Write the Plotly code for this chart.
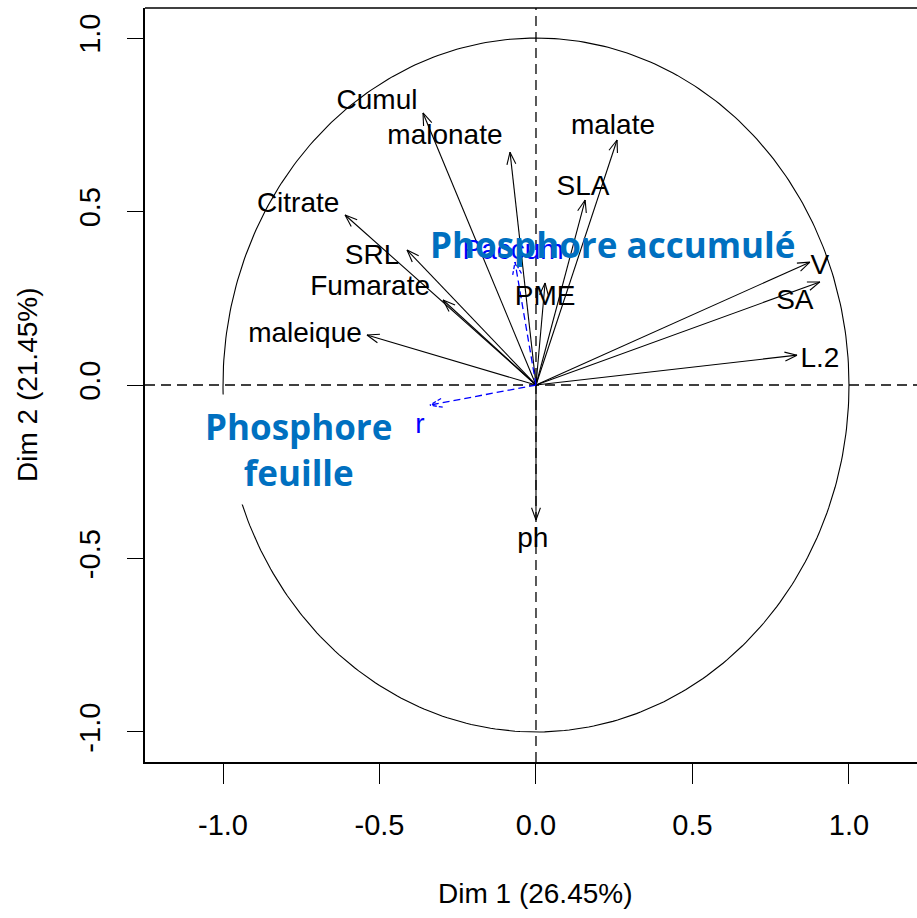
import numpy as np
import plotly.graph_objects as go

# ---------------- data ----------------
var_names = ["Cumul", "malonate", "Citrate", "SRL", "Fumarate", "maleique",
             "malate", "SLA", "PME", "V", "SA", "L.2", "ph"]
dim1 = [-0.361, -0.083, -0.610, -0.412, -0.297, -0.540,
        0.259, 0.157, 0.029, 0.875, 0.907, 0.834, 0.000]
dim2 = [0.784, 0.671, 0.490, 0.389, 0.245, 0.144,
        0.706, 0.533, 0.294, 0.354, 0.297, 0.086, -0.389]
# label anchor points (as placed by the original plot)
lab_x = [-0.508, -0.291, -0.760, -0.524, -0.530, -0.738,
         0.246, 0.150, 0.029, 0.907, 0.827, 0.907, -0.010]
lab_y = [0.816, 0.715, 0.519, 0.369, 0.280, 0.144,
         0.744, 0.568, 0.251, 0.340, 0.239, 0.072, -0.447]

sup_names = ["Paccum", "r"]
sup_dim1 = [-0.067, -0.339]
sup_dim2 = [0.354, -0.058]
sup_lab_x = [-0.073, -0.371]
sup_lab_y = [0.383, -0.118]

x_ticks = [-1.0, -0.5, 0.0, 0.5, 1.0]
y_ticks = [-1.0, -0.5, 0.0, 0.5, 1.0]
x_title = "Dim 1 (26.45%)"
y_title = "Dim 2 (21.45%)"

# ---------------- geometry ----------------
W, H = 917, 918
ML, MR, MT, MB = 145, 0, 8, 156
XR = [-1.2492, 1.2173]
YR = [-1.0865, 1.0865]
pw = W - ML - MR
ph_ = H - MT - MB
sx = pw / (XR[1] - XR[0])
sy = ph_ / (YR[1] - YR[0])

FONT = "Liberation Sans, Arial, sans-serif"
FS = 28


def arrows(xs, ys, head_len=13, ang=20):
    lx, ly, hx, hy = [], [], [], []
    a = np.radians(ang)
    for x, y in zip(xs, ys):
        lx += [0, x, None]
        ly += [0, y, None]
        dx, dy = x * sx, y * sy
        n = np.hypot(dx, dy)
        ux, uy = dx / n, dy / n
        for s in (a, -a):
            rx = ux * np.cos(s) - uy * np.sin(s)
            ry = ux * np.sin(s) + uy * np.cos(s)
            hx += [x - head_len * rx / sx, x, None]
            hy += [y - head_len * ry / sy, y, None]
    return lx, ly, hx, hy


def px2paper(px, py):
    return (px - ML) / pw, 1 - (py - MT) / ph_


fig = go.Figure()

# unit circle
t = np.linspace(0, 2 * np.pi, 400)
fig.add_trace(go.Scatter(x=np.cos(t), y=np.sin(t), mode="lines",
                         line=dict(color="black", width=1.1), hoverinfo="skip"))

# dashed axes
fig.add_trace(go.Scatter(x=[XR[0], XR[1]], y=[0, 0], mode="lines",
                         line=dict(color="black", width=1.3, dash="10px,6px"), hoverinfo="skip"))
fig.add_trace(go.Scatter(x=[0, 0], y=[YR[0], YR[1]], mode="lines",
                         line=dict(color="black", width=1.3, dash="10px,6px"), hoverinfo="skip"))

# active variable arrows
lx, ly, hx, hy = arrows(dim1, dim2)
fig.add_trace(go.Scatter(x=lx, y=ly, mode="lines", line=dict(color="black", width=1.1),
                         hoverinfo="skip"))
fig.add_trace(go.Scatter(x=hx, y=hy, mode="lines", line=dict(color="black", width=1.1),
                         hoverinfo="skip"))

# supplementary (blue dashed)
lx, ly, hx, hy = arrows(sup_dim1, sup_dim2)
fig.add_trace(go.Scatter(x=lx, y=ly, mode="lines",
                         line=dict(color="#0000FF", width=1.3, dash="7px,4px"), hoverinfo="skip"))
fig.add_trace(go.Scatter(x=hx, y=hy, mode="lines",
                         line=dict(color="#0000FF", width=1.3, dash="4px,2px"), hoverinfo="skip"))

# labels
fig.add_trace(go.Scatter(x=lab_x, y=lab_y, mode="text", text=var_names,
                         textfont=dict(family=FONT, size=FS, color="black"),
                         textposition="middle center", hoverinfo="skip"))
fig.add_trace(go.Scatter(x=sup_lab_x, y=sup_lab_y, mode="text", text=sup_names,
                         textfont=dict(family=FONT, size=FS, color="#0000FF"),
                         textposition="middle center", hoverinfo="skip"))

BLUE = "#0070C0"
BOLD = "Open Sans, Lato, sans-serif"
ax1, ay1 = px2paper(612, 245)
ax2, ay2 = px2paper(298, 449)
ax3, ay3 = px2paper(535, 893)
ax4, ay4 = px2paper(27, 385)
annotations = [
    dict(x=ax1, y=ay1, xref="paper", yref="paper", xanchor="center", yanchor="middle",
         text="<b>Phosphore accumulé</b>", showarrow=False,
         font=dict(family=BOLD, size=35, color=BLUE)),
    dict(x=ax2, y=ay2, xref="paper", yref="paper", xanchor="center", yanchor="middle",
         text="<b>Phosphore<br>feuille</b>", showarrow=False, align="center",
         font=dict(family=BOLD, size=35, color=BLUE), bgcolor="white",
         borderpad=8),
    dict(x=ax3, y=ay3, xref="paper", yref="paper", xanchor="center", yanchor="middle",
         text=x_title, showarrow=False, font=dict(family=FONT, size=FS, color="black")),
    dict(x=ax4, y=ay4, xref="paper", yref="paper", xanchor="center", yanchor="middle",
         text=y_title, showarrow=False, textangle=-90,
         font=dict(family=FONT, size=FS, color="black")),
]

shapes = [dict(type="line", xref="paper", yref="paper", x0=0, x1=1, y0=1, y1=1,
               line=dict(color="black", width=1.5))]

fig.update_layout(
    width=W, height=H,
    margin=dict(l=ML, r=MR, t=MT, b=MB),
    paper_bgcolor="white", plot_bgcolor="white",
    showlegend=False,
    annotations=annotations,
    shapes=shapes,
    xaxis=dict(range=XR, showgrid=False, zeroline=False, showline=True,
               linecolor="black", linewidth=1.5, ticks="outside", ticklen=20,
               tickcolor="black", tickwidth=1.2, tickvals=x_ticks,
               ticktext=["%.1f" % v for v in x_ticks], ticklabelstandoff=16,
               tickfont=dict(family=FONT, size=29, color="black")),
    yaxis=dict(range=YR, showgrid=False, zeroline=False, showline=True,
               linecolor="black", linewidth=1.5, ticks="outside", ticklen=16,
               tickcolor="black", tickwidth=1.2, tickvals=y_ticks,
               ticktext=["%.1f" % v for v in y_ticks], tickangle=-90,
               ticklabelstandoff=16,
               tickfont=dict(family=FONT, size=29, color="black")),
)

fig.write_html("out.html", config={"displayModeBar": False},
               post_script="document.body.style.margin='0px';")
